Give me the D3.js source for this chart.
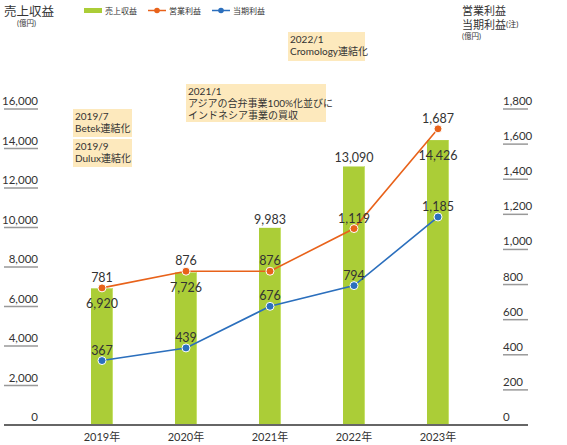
<!DOCTYPE html>
<html><head><meta charset="utf-8">
<script src="https://cdn.jsdelivr.net/npm/d3@7"></script>
<style>
body{margin:0;background:#fff;}
text{font-family:Lato,"Noto Sans CJK JP",sans-serif;fill:#333;}
</style></head>
<body><svg id="c" width="567" height="445"></svg>
<script>
const years = ["2019年","2020年","2021年","2022年","2023年"];
const revenue = [6920, 7726, 9983, 13090, 14426];
const opProfit = [781, 876, 876, 1119, 1687];
const netProfit = [367, 439, 676, 794, 1185];
const leftTicks = [0,2000,4000,6000,8000,10000,12000,14000,16000];
const rightTicks = [0,200,400,600,800,1000,1200,1400,1600,1800];
// revenue label position: true = below bar top (inside)
const revLabelInside = [true, true, false, false, true];
const notes = [
  {lines:["2019/7","Betek連結化"], x:73, y:109, w:59, h:28},
  {lines:["2019/9","Dulux連結化"], x:73, y:139, w:59, h:28},
  {lines:["2021/1","アジアの合弁事業100%化並びに","インドネシア事業の買収"], x:186, y:84, w:140, h:38},
  {lines:["2022/1","Cromology連結化"], x:288, y:32, w:77, h:29}
];

const svg = d3.select("#c");
const x = d3.scaleBand().domain(years).range([60,480]).paddingInner(0.738).paddingOuter(0.369);
const yL = d3.scaleLinear().domain([0,16000]).range([425,109]);
const yR = d3.scaleLinear().domain([0,1800]).range([425,109]);
const fmt = d3.format(",");
const cx = d => x(d) + x.bandwidth()/2;

// left ticks
const lt = svg.append("g");
leftTicks.forEach(t=>{
  lt.append("line").attr("x1",4).attr("x2",38).attr("y1",yL(t)).attr("y2",yL(t)).attr("stroke","#999").attr("stroke-width",1.5);
  lt.append("text").attr("x",38).attr("y",yL(t)-4).attr("text-anchor","end").attr("font-size",11.5).text(fmt(t));
});
const rt = svg.append("g");
rightTicks.forEach(t=>{
  rt.append("line").attr("x1",503).attr("x2",528).attr("y1",yR(t)).attr("y2",yR(t)).attr("stroke","#999").attr("stroke-width",1.5);
  rt.append("text").attr("x",503).attr("y",yR(t)-4).attr("text-anchor","start").attr("font-size",11.5).text(fmt(t));
});

// bars
svg.append("g").selectAll("rect").data(revenue).join("rect")
  .attr("x",(d,i)=>x(years[i])).attr("width",x.bandwidth())
  .attr("y",d=>yL(d)).attr("height",d=>yL(0)-yL(d))
  .attr("fill","#abcd37");
svg.append("g").selectAll("line").data(revenue).join("line")
  .attr("x1",(d,i)=>x(years[i])+x.bandwidth()-0.5).attr("x2",(d,i)=>x(years[i])+x.bandwidth()-0.5)
  .attr("y1",d=>yL(d)).attr("y2",yL(0)).attr("stroke","#c6e06a").attr("stroke-width",1);

// baseline
svg.append("line").attr("x1",4).attr("x2",528).attr("y1",425).attr("y2",425).attr("stroke","#666").attr("stroke-width",2);

// x labels
svg.append("g").selectAll("text").data(years).join("text")
  .attr("x",d=>cx(d)).attr("y",441).attr("text-anchor","middle").attr("font-size",11).text(d=>d);

// lines
const line = yS => d3.line().x((d,i)=>cx(years[i])).y(d=>yS(d));
svg.append("path").datum(opProfit).attr("d",line(yR)).attr("fill","none").attr("stroke","#e8621a").attr("stroke-width",1.6);
svg.append("path").datum(netProfit).attr("d",line(yR)).attr("fill","none").attr("stroke","#2b6fbd").attr("stroke-width",1.6);
svg.append("g").selectAll("circle").data(opProfit).join("circle")
  .attr("cx",(d,i)=>cx(years[i])).attr("cy",d=>yR(d)).attr("r",4).attr("fill","#e8621a").attr("stroke","#fff").attr("stroke-width",1);
svg.append("g").selectAll("circle").data(netProfit).join("circle")
  .attr("cx",(d,i)=>cx(years[i])).attr("cy",d=>yR(d)).attr("r",4).attr("fill","#2b6fbd").attr("stroke","#fff").attr("stroke-width",1);

// value labels
svg.append("g").selectAll("text").data(revenue).join("text")
  .attr("x",(d,i)=>cx(years[i])).attr("y",(d,i)=>revLabelInside[i]? yL(d)+20 : yL(d)-4)
  .attr("text-anchor","middle").attr("font-size",12.5).text(d=>fmt(d));
svg.append("g").selectAll("text").data(opProfit).join("text")
  .attr("x",(d,i)=>cx(years[i])).attr("y",d=>yR(d)-6)
  .attr("text-anchor","middle").attr("font-size",12.5).text(d=>fmt(d));
svg.append("g").selectAll("text").data(netProfit).join("text")
  .attr("x",(d,i)=>cx(years[i])).attr("y",d=>yR(d)-6)
  .attr("text-anchor","middle").attr("font-size",12.5).text(d=>fmt(d));

// notes
notes.forEach(n=>{
  const g = svg.append("g");
  g.append("rect").attr("x",n.x).attr("y",n.y).attr("width",n.w).attr("height",n.h).attr("fill","#fde9bd");
  n.lines.forEach((l,i)=>{
    g.append("text").attr("x",n.x+2).attr("y",n.y+11+i*12).attr("font-size",10).text(l);
  });
});

// titles
svg.append("text").attr("x",4).attr("y",16).attr("font-size",12.5).text("売上収益");
svg.append("text").attr("x",17).attr("y",26).attr("font-size",7.5).text("(億円)");
svg.append("text").attr("x",462).attr("y",15).attr("font-size",11).text("営業利益");
const t2 = svg.append("text").attr("x",462).attr("y",29).attr("font-size",11);
t2.append("tspan").text("当期利益");
t2.append("tspan").attr("font-size",8).attr("dy",-2).text("(注)");
svg.append("text").attr("x",462).attr("y",39).attr("font-size",7.5).text("(億円)");

// legend
const lg = svg.append("g");
lg.append("rect").attr("x",84).attr("y",8).attr("width",18).attr("height",5).attr("fill","#abcd37");
lg.append("text").attr("x",105).attr("y",14).attr("font-size",8).text("売上収益");
lg.append("line").attr("x1",148).attr("x2",166).attr("y1",10.5).attr("y2",10.5).attr("stroke","#e8621a").attr("stroke-width",1.5);
lg.append("circle").attr("cx",157).attr("cy",10.5).attr("r",2.8).attr("fill","#e8621a");
lg.append("text").attr("x",169).attr("y",14).attr("font-size",8).text("営業利益");
lg.append("line").attr("x1",212).attr("x2",230).attr("y1",10.5).attr("y2",10.5).attr("stroke","#2b6fbd").attr("stroke-width",1.5);
lg.append("circle").attr("cx",221).attr("cy",10.5).attr("r",2.8).attr("fill","#2b6fbd");
lg.append("text").attr("x",233).attr("y",14).attr("font-size",8).text("当期利益");
</script></body></html>
